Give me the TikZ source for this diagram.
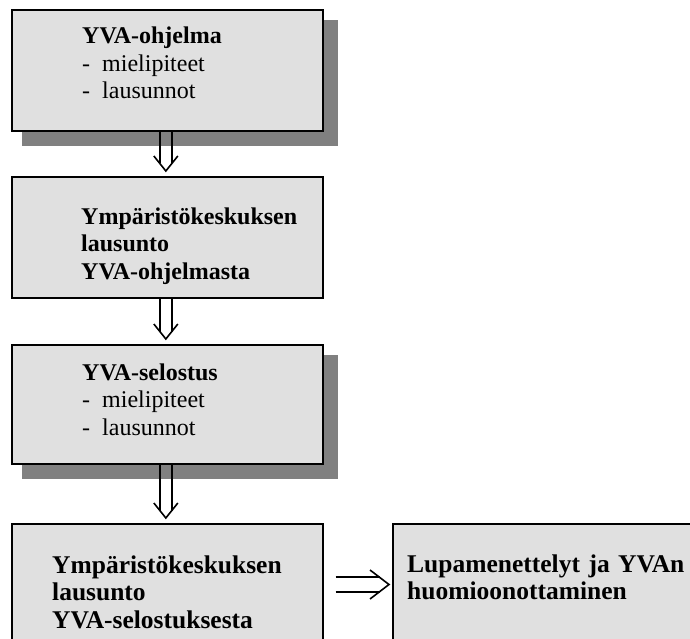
\documentclass[tikz,border=0pt]{standalone}
\usepackage{fontspec}
\setmainfont{Liberation Serif}
\usetikzlibrary{calc,backgrounds}
\definecolor{boxfill}{HTML}{E0E0E0}
\definecolor{shadowgray}{HTML}{808080}
\tikzset{
  flowbox/.style={draw=black, line width=2.2pt, fill=boxfill, rectangle, inner sep=0pt, anchor=north west},
  boxtext/.style={anchor=base west, inner sep=0pt, text width=#1, align=left,
    font=\fontsize{24}{27.5}\selectfont},
  bigtext/.style={anchor=base west, inner sep=0pt, text width=#1, align=left,
    font=\fontsize{25.5}{27.5}\selectfont},
  arrline/.style={line width=1.6pt, line cap=butt, line join=miter}
}
\newcommand{\dashitem}[1]{\makebox[20pt][l]{-}#1}
\begin{document}
\begin{tikzpicture}[x=1pt,y=-1pt]
\useasboundingbox (0,0) rectangle (690,639);
\clip (0,0) rectangle (690,639);
% boxes
\node[flowbox, minimum width=310.5pt, minimum height=121pt] (b1) at (11,9) {};
\node[flowbox, minimum width=310.5pt, minimum height=121pt] (b2) at (11,176) {};
\node[flowbox, minimum width=310.5pt, minimum height=119pt] (b3) at (11,344) {};
\node[flowbox, minimum width=310.5pt, minimum height=150pt] (b4) at (11,523) {};
\node[flowbox, minimum width=320pt, minimum height=150pt] (b5) at (391.5,523) {};
% shadows
\begin{scope}[on background layer]
\fill[shadowgray] ($(b1.north west)+(11,11)$) rectangle ($(b1.south east)+(14.5,14)$);
\fill[shadowgray] ($(b3.north west)+(11,11)$) rectangle ($(b3.south east)+(14.5,14)$);
\end{scope}
% texts
\node[boxtext=230pt] (t1) at (82,44) {\textbf{YVA-ohjelma}\\\dashitem{mielipiteet}\\\dashitem{lausunnot}};
\node[boxtext=235pt] (t2) at (81,224) {\textbf{Ympäristökeskuksen}\\\textbf{lausunto}\\\textbf{YVA-ohjelmasta}};
\node[boxtext=230pt] (t3) at (82,380) {\textbf{YVA-selostus}\\\dashitem{mielipiteet}\\\dashitem{lausunnot}};
\node[bigtext=260pt] (t4) at (52,573) {\textbf{Ympäristökeskuksen}\\\textbf{lausunto}\\\textbf{YVA-selostuksesta}};
\node[bigtext=285pt] (t5) at (407,572) {\textbf{Lupamenettelyt ja YVAn}\\\textbf{huomioonottaminen}};
% vertical double arrows
\foreach \a/\b in {b1/b2, b2/b3, b3/b4}{
  \coordinate (tip) at ($(\b.north)+(-1.5,-5)$);
  \coordinate (st) at ($(\a.south)+(-1.5,0)$);
  \draw[arrline] ($(st)+(-6,0)$) -- ($(tip)+(-6,-7.5)$);
  \draw[arrline] ($(st)+(6,0)$) -- ($(tip)+(6,-7.5)$);
  \draw[arrline] ($(tip)+(-12,-15)$) -- (tip) -- ($(tip)+(12,-15)$);
}
% horizontal double arrow
\coordinate (htip) at ($(b5.north west)+(-2.5,61.5)$);
\coordinate (hst) at ($(b4.north east)+(12,61.5)$);
\draw[arrline] ($(hst)+(0,-7.5)$) -- ($(htip)+(-9.5,-7.5)$);
\draw[arrline] ($(hst)+(0,7.5)$) -- ($(htip)+(-9.5,7.5)$);
\draw[arrline] ($(htip)+(-19,-14.5)$) -- (htip) -- ($(htip)+(-19,14.5)$);
\end{tikzpicture}
\end{document}
